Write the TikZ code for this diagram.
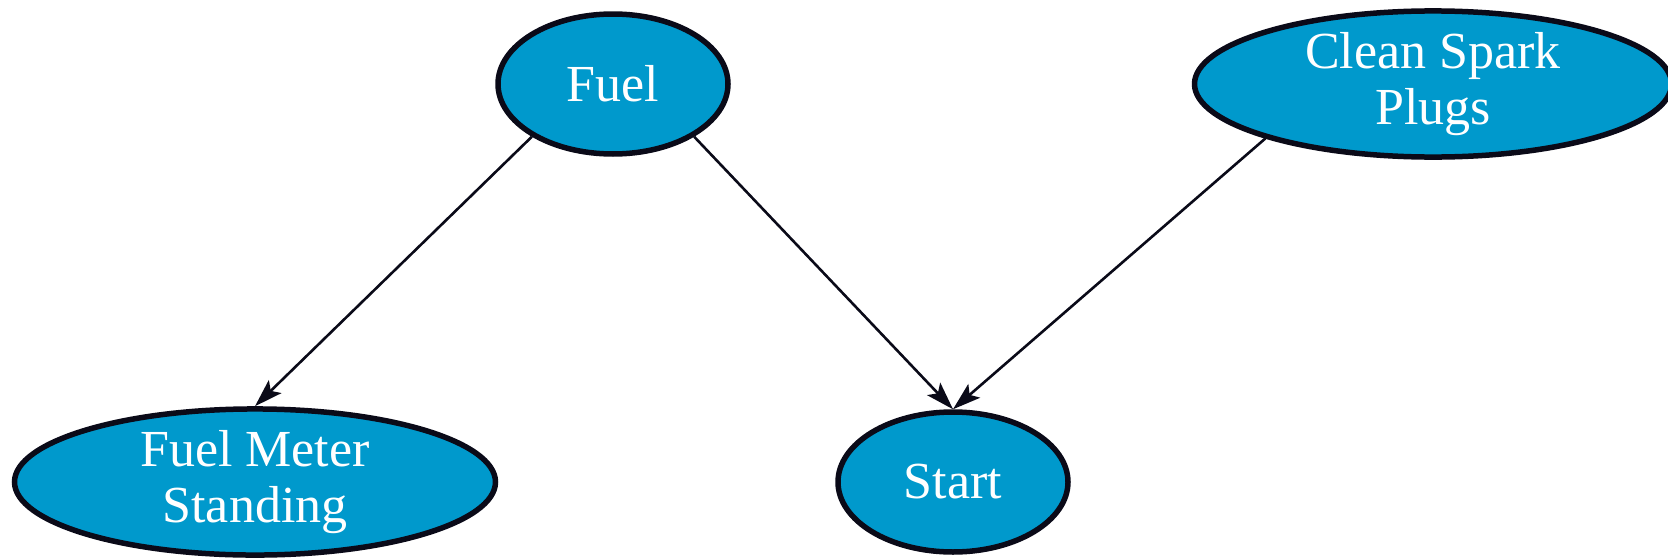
\documentclass[tikz,border=0pt]{standalone}
\usepackage{fontspec}
\setmainfont{Liberation Serif}
\usetikzlibrary{shapes.geometric,arrows.meta}
\definecolor{nodefill}{RGB}{0,153,204}
\definecolor{edgecol}{RGB}{10,10,24}
\tikzset{
  bnode/.style={ellipse, draw=edgecol, line width=5.5pt, fill=nodefill, text=white,
    inner sep=0pt, align=center, font=\fontsize{52}{56}\selectfont},
  conn/.style={draw=edgecol, line width=2.6pt, -{Stealth[length=28pt,width=18pt,inset=6pt]}}
}
\begin{document}
\begin{tikzpicture}[x=1pt,y=1pt]
\useasboundingbox (0,0) rectangle (1668,-557);
\node[bnode, minimum width=230pt, minimum height=140pt] (fuel) at (613,-84) {Fuel};
\node[bnode, minimum width=477pt, minimum height=140pt] (spark) at (1433,-84) {Clean Spark\\Plugs};
\node[bnode, minimum width=481pt, minimum height=140pt] (meter) at (255,-482) {Fuel Meter\\Standing};
\node[bnode, minimum width=230pt, minimum height=140pt] (start) at (953,-482) {Start};
\draw[conn] (fuel.213) -- (meter.north);
\draw[conn] (fuel.327) -- (start.north);
\draw[conn] (spark.198) -- (start.north);
\end{tikzpicture}
\end{document}
